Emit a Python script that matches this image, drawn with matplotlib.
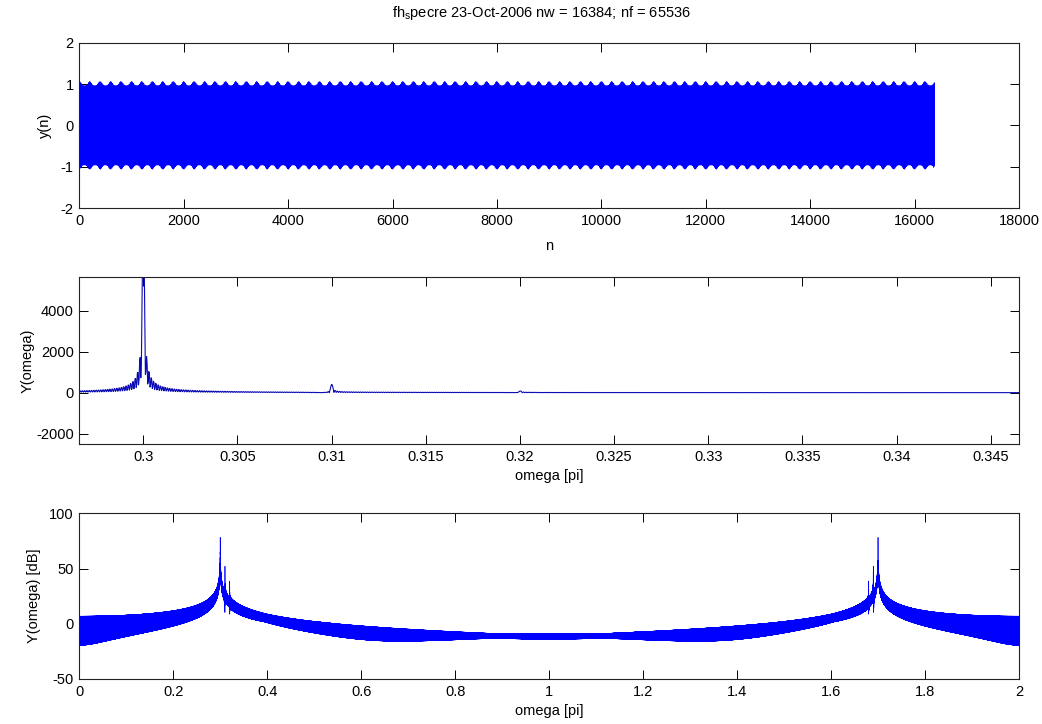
import numpy as np
import matplotlib
matplotlib.use('Agg')
import matplotlib.pyplot as plt

# signal description (frequencies in units of pi)
nw = 16384
nf = 65536
tone_freq = [0.30, 0.31, 0.32]
tone_amp = [1.0, 0.05, 0.011]

title_txt = 'fh$_s$pecre 23-Oct-2006 nw = 16384; nf = 65536'

top_xticks = [0, 2000, 4000, 6000, 8000, 10000, 12000, 14000, 16000, 18000]
top_yticks = [-2, -1, 0, 1, 2]
mid_xticks = [0.3, 0.305, 0.31, 0.315, 0.32, 0.325, 0.33, 0.335, 0.34, 0.345]
mid_xtick_labels = ['0.3', '0.305', '0.31', '0.315', '0.32', '0.325', '0.33', '0.335', '0.34', '0.345']
mid_yticks = [-2000, 0, 2000, 4000]
bot_xticks = [0, 0.2, 0.4, 0.6, 0.8, 1, 1.2, 1.4, 1.6, 1.8, 2]
bot_xtick_labels = ['0', '0.2', '0.4', '0.6', '0.8', '1', '1.2', '1.4', '1.6', '1.8', '2']
bot_yticks = [-50, 0, 50, 100]

n = np.arange(nw)
y = np.zeros(nw)
for f, a in zip(tone_freq, tone_amp):
    y += a * np.sin(np.pi * f * n)

Y = np.abs(np.fft.fft(y, nf))
omega = 2.0 * np.arange(nf) / nf
Ydb = 20 * np.log10(Y + 1e-12)

plt.rcParams['font.family'] = ['Liberation Sans', 'DejaVu Sans']
plt.rcParams['font.size'] = 10.5
plt.rcParams['mathtext.default'] = 'regular'
plt.rcParams['axes.unicode_minus'] = False

W, H = 1042, 724
fig = plt.figure(figsize=(W / 100, H / 100), dpi=100)
fig.patch.set_facecolor('white')

def px_axes(left, top, right, bottom):
    return fig.add_axes([left / W, 1 - bottom / H, (right - left) / W, (bottom - top) / H])

def style(ax):
    ax.tick_params(direction='in', length=6.5, width=0.7, top=True, right=True,
                   pad=4, labelsize=10.5, colors='black')
    for s in ax.spines.values():
        s.set_linewidth(0.8)
        s.set_color('#222222')

ax1 = px_axes(79.3, 42.7, 1019, 208)
ax1.plot(n, y, color='b', lw=0.5)
ax1.set_xlim(0, 18000)
ax1.set_ylim(-2, 2)
ax1.set_xticks(top_xticks)
ax1.set_yticks(top_yticks)
ax1.set_xlabel('n', labelpad=8)
ax1.set_ylabel('y(n)', labelpad=6)
style(ax1)

ax2 = px_axes(79.3, 277.3, 1019, 444)
ax2.plot(omega, Y, color='#0a0ab4', lw=0.8)
ax2.set_xlim(0.2966, 0.3465)
ax2.set_ylim(-2500, 5630)
ax2.set_xticks(mid_xticks)
ax2.set_xticklabels(mid_xtick_labels)
ax2.set_yticks(mid_yticks)
ax2.set_xlabel('omega [pi]', labelpad=4)
ax2.set_ylabel('Y(omega)', labelpad=1)
style(ax2)

ax3 = px_axes(79.3, 513.3, 1019, 679)
ax3.plot(omega, Ydb, color='b', lw=0.5)
ax3.set_xlim(0, 2)
ax3.set_ylim(-50, 100)
ax3.set_xticks(bot_xticks)
ax3.set_xticklabels(bot_xtick_labels)
ax3.set_yticks(bot_yticks)
ax3.set_xlabel('omega [pi]', labelpad=4)
ax3.set_ylabel('Y(omega) [dB]', labelpad=6)
style(ax3)

fig.text(541 / W, 1 - 13 / H, title_txt, ha='center', va='center', fontsize=10.5)

fig.savefig('out.png', dpi=100)
